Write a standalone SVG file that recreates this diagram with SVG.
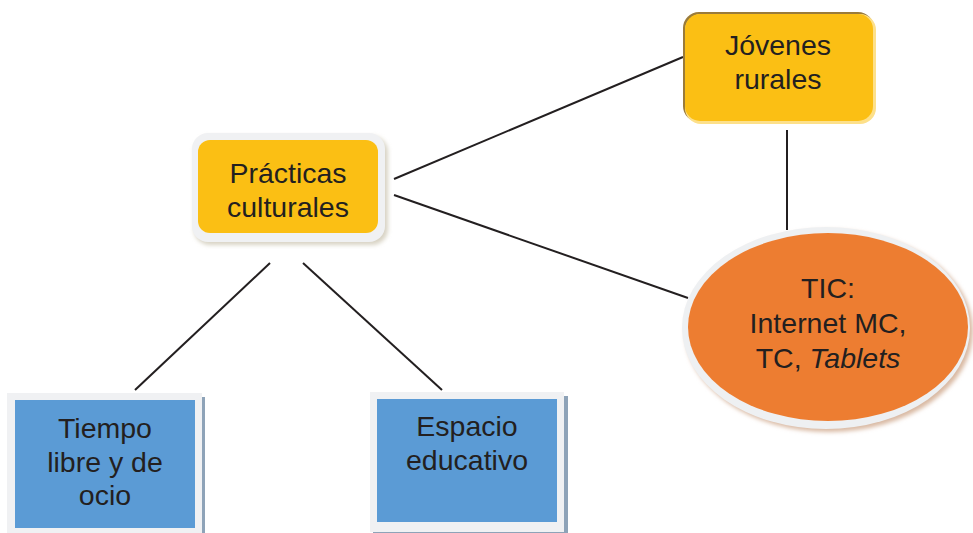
<svg xmlns="http://www.w3.org/2000/svg" width="973" height="533" viewBox="0 0 973 533">
<defs>
<style>
.t{font-family:"Liberation Sans",Arial,sans-serif;font-size:28.5px;fill:#231F20;text-anchor:middle}
.ln{stroke:#231F20;stroke-width:2;fill:none}
.frame{fill:#F0F1F3}
.yel{fill:#FBBF14}
.blue{fill:#5B9BD5}
</style>
<filter id="sh" x="-10%" y="-10%" width="120%" height="130%">
<feGaussianBlur stdDeviation="2"/>
</filter>
</defs>
<rect width="973" height="533" fill="#FFFFFF"/>
<g id="connectors">
<line class="ln" x1="394" y1="179" x2="683" y2="57"/>
<line class="ln" x1="394" y1="195" x2="688" y2="298"/>
<line class="ln" x1="787" y1="130" x2="787" y2="230"/>
<line class="ln" x1="270" y1="263" x2="135" y2="390"/>
<line class="ln" x1="303" y1="263" x2="442" y2="390"/>
</g>
<g id="practicas">
<rect x="194" y="136" width="194" height="109" rx="16" fill="#D8D3C4" filter="url(#sh)"/>
<rect class="frame" x="192" y="133" width="193" height="109" rx="16"/>
<rect class="yel" x="198" y="140" width="180" height="93" rx="12"/>
<text class="t" x="288" y="183">Prácticas</text>
<text class="t" x="288" y="217">culturales</text>
</g>
<g id="jovenes">
<rect x="683" y="12" width="191" height="110" rx="16" fill="#9A7B3A"/>
<rect x="685" y="14" width="191" height="110" rx="16" fill="#FDE08A"/>
<rect class="yel" x="685" y="14" width="188" height="107" rx="15"/>
<text class="t" x="778" y="55">Jóvenes</text>
<text class="t" x="778" y="89">rurales</text>
</g>
<g id="tic">
<ellipse cx="829" cy="331" rx="144" ry="101" fill="#D9B9A3" filter="url(#sh)"/>
<ellipse cx="826" cy="328" rx="144" ry="101" fill="#EEF0F2"/>
<ellipse cx="828" cy="327" rx="140" ry="94" fill="#ED7D31"/>
<text class="t" x="828" y="298">TIC:</text>
<text class="t" x="828" y="333">Internet MC,</text>
<text class="t" x="828" y="368">TC, <tspan font-style="italic">Tablets</tspan></text>
</g>
<g id="tiempo">
<rect x="202" y="397" width="3" height="136" fill="#8EA3B8"/>
<rect class="frame" x="7" y="393" width="195" height="140"/>
<rect class="blue" x="15" y="400" width="180" height="128"/>
<text class="t" x="105" y="438">Tiempo</text>
<text class="t" x="105" y="472">libre y de</text>
<text class="t" x="105" y="505">ocio</text>
</g>
<g id="espacio">
<rect x="373" y="396" width="195" height="140" fill="#8EA3B8"/>
<rect class="frame" x="370" y="392" width="194" height="140"/>
<rect class="blue" x="377" y="399" width="180" height="123"/>
<text class="t" x="467" y="436">Espacio</text>
<text class="t" x="467" y="470">educativo</text>
</g>
</svg>
